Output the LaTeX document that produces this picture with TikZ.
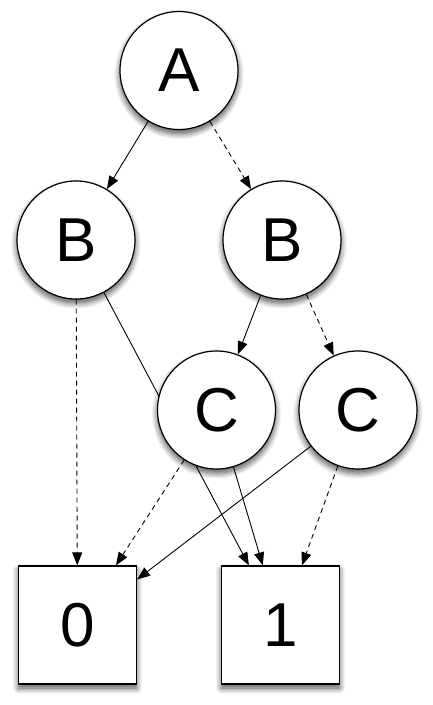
\documentclass[tikz,border=0pt]{standalone}
\usepackage{fontspec}
\setmainfont{Liberation Sans}
\usetikzlibrary{arrows.meta,shadows.blur,backgrounds}
\begin{document}
\begin{tikzpicture}[x=1pt,y=-1pt,
  shad/.style={blur shadow={shadow xshift=0pt,shadow yshift=-4pt,shadow blur radius=6pt,shadow blur steps=10,shadow opacity=70}},
  bddnode/.style={circle,draw,line width=1.2pt,fill=white,minimum size=118pt,inner sep=0pt,font=\fontsize{62}{62}\selectfont,shad},
  leaf/.style={rectangle,draw,line width=1.2pt,fill=white,minimum size=118pt,inner sep=0pt,font=\fontsize{62}{62}\selectfont,shad},
  hi/.style={-{Triangle[length=13pt,width=10pt]},line width=0.9pt},
  lo/.style={hi,dash pattern=on 5pt off 4pt}]
\useasboundingbox (0,0) rectangle (433,705);
\node[bddnode] (a) at (179,70.5) {A};
\node[bddnode] (b1) at (76,240) {B};
\node[bddnode] (b2) at (282,240) {B};
\node[bddnode] (c1) at (216.5,410) {C};
\node[bddnode] (c2) at (358,410) {C};
\node[leaf] (zero) at (77.5,625) {0};
\node[leaf] (one) at (280.5,625) {1};
\begin{scope}[on background layer]
  \draw[hi] (b1) -- (one);
\end{scope}
\draw[hi] (a) -- (b1);
\draw[lo] (a) -- (b2);
\draw[lo] (b1) -- (zero);
\draw[hi] (b2) -- (c1);
\draw[lo] (b2) -- (c2);
\draw[hi] (c1) -- (one);
\draw[lo] (c1) -- (zero);
\draw[hi] (c2) -- (zero);
\draw[lo] (c2) -- (one);
\end{tikzpicture}
\end{document}
